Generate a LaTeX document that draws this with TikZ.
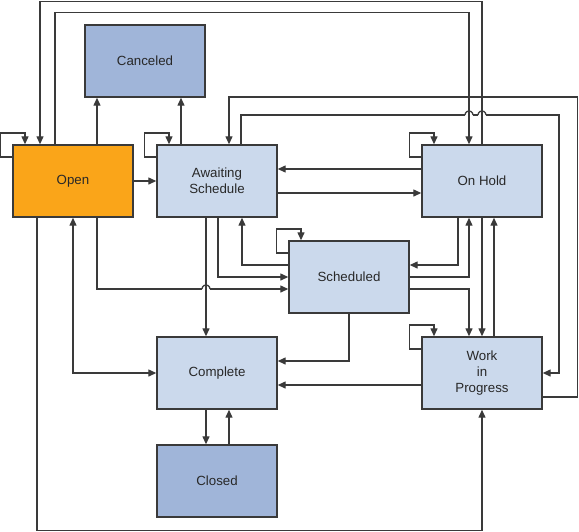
\documentclass[tikz,border=0pt]{standalone}
\usepackage{fontspec}
\setmainfont{Liberation Sans}
\usetikzlibrary{arrows.meta}
\definecolor{openfill}{RGB}{250,165,25}
\definecolor{lightfill}{RGB}{203,217,236}
\definecolor{darkfill}{RGB}{160,181,217}
\definecolor{linegray}{RGB}{58,58,58}
\definecolor{textgray}{RGB}{40,40,40}

\begin{document}
\begin{tikzpicture}[x=1pt, y=-1pt,
	statebox/.style={draw=linegray, line width=1.4pt, fill=lightfill, minimum width=120pt, minimum height=72pt, align=center, text=textgray, font=\fontsize{13.3}{16}\selectfont},
	link/.style={draw=linegray, line width=1.3pt},
	flow/.style={link, -{Triangle[length=8pt, width=7pt]}},
	twoway/.style={link, {Triangle[length=8pt, width=7pt]}-{Triangle[length=8pt, width=7pt]}},
	hop/.style={insert path={-- ++(0.54,-2) -- ++(1.46,-1.46) -- ++(2,-0.54) -- ++(2,0.54) -- ++(1.46,1.46) -- ++(0.54,2)}}]
	\useasboundingbox (0,0) rectangle (579,531);
	\node [statebox, fill=openfill] (open) at (73,181) {Open};
	\node [statebox, fill=darkfill] (canceled) at (145,61) {Canceled};
	\node [statebox] (awaiting) at (217,181) {Awaiting\\Schedule};
	\node [statebox] (onhold) at (482,181) {On Hold};
	\node [statebox] (scheduled) at (349,277) {Scheduled};
	\node [statebox] (complete) at (217,373) {Complete};
	\node [statebox] (wip) at (482,373) {Work\\in\\Progress};
	\node [statebox, fill=darkfill] (closed) at (217,481) {Closed};
	\foreach \statename in {open, awaiting, onhold, scheduled, wip}{%
		\path [flow] ([yshift=24pt]\statename.west) -- ++(-12,0) -- ++(0,-24) -| ([xshift=-48pt]\statename.north);
	}
	\path [flow] (onhold.north) -- ++(0,-143) -| ([xshift=-33pt]open.north);
	\path [flow] ([xshift=-18pt]open.north) -- ++(0,-132) -| ([xshift=-13pt]onhold.north);
	\path [flow] ([xshift=24pt]open.north) -- ([xshift=-48pt]canceled.south);
	\path [flow] ([xshift=-36pt]awaiting.north) -- ([xshift=36pt]canceled.south);
	\path [flow] ([yshift=-24pt]wip.east) -- ++(35,0) -- ++(0,-300) -| ([xshift=12pt]awaiting.north);
	% Awaiting -> Work in Progress, hopping over two lines
	\coordinate (hopa) at (465,115);
	\coordinate (hopb) at (478,115);
	\path [link] ([xshift=24pt]awaiting.north) |- (hopa);
	\path [link] (hopa) [hop];
	\path [link] ([xshift=8pt]hopa) -- (hopb);
	\path [link] (hopb) [hop];
	\path [flow] ([xshift=8pt]hopb) -- ++(73,0) |- (wip.east);
	\path [flow] (open.east) -- (awaiting.west);
	\path [flow] ([yshift=12pt]onhold.west) -- ([yshift=12pt]awaiting.east);
	\path [flow] ([yshift=-12pt]awaiting.east) -- ([yshift=-12pt]onhold.west);
	\path [flow] ([xshift=-11pt]awaiting.south) -- ([xshift=-11pt]complete.north);
	\path [flow] ([xshift=1pt]awaiting.south) |- (scheduled.west);
	\path [flow] ([yshift=12pt]scheduled.west) -| ([xshift=25pt]awaiting.south);
	% Open -> Scheduled, hopping once
	\coordinate (hopc) at (202,289);
	\path [link] ([xshift=24pt]open.south) |- (hopc);
	\path [link] (hopc) [hop];
	\path [flow] ([xshift=8pt]hopc) -- ([yshift=-12pt]scheduled.west);
	\path [flow] (scheduled.south) |- ([yshift=12pt]complete.east);
	\path [flow] ([yshift=-12pt]wip.west) -- ([yshift=-12pt]complete.east);
	\path [flow] ([xshift=-24pt]onhold.south) |- ([yshift=12pt]scheduled.east);
	\path [flow] (scheduled.east) -| ([xshift=-13pt]onhold.south);
	\path [flow] ([yshift=-12pt]scheduled.east) -| ([xshift=-13pt]wip.north);
	\path [flow] (onhold.south) -- (wip.north);
	\path [flow] ([xshift=12pt]wip.north) -- ([xshift=12pt]onhold.south);
	\path [flow] ([xshift=-36pt]open.south) -- ++(0,313) -| (wip.south);
	\path [twoway] (complete.west) -| (open.south);
	\path [flow] ([xshift=-11pt]complete.south) -- ([xshift=-11pt]closed.north);
	\path [flow] ([xshift=12pt]closed.north) -- ([xshift=12pt]complete.south);
\end{tikzpicture}
\end{document}
